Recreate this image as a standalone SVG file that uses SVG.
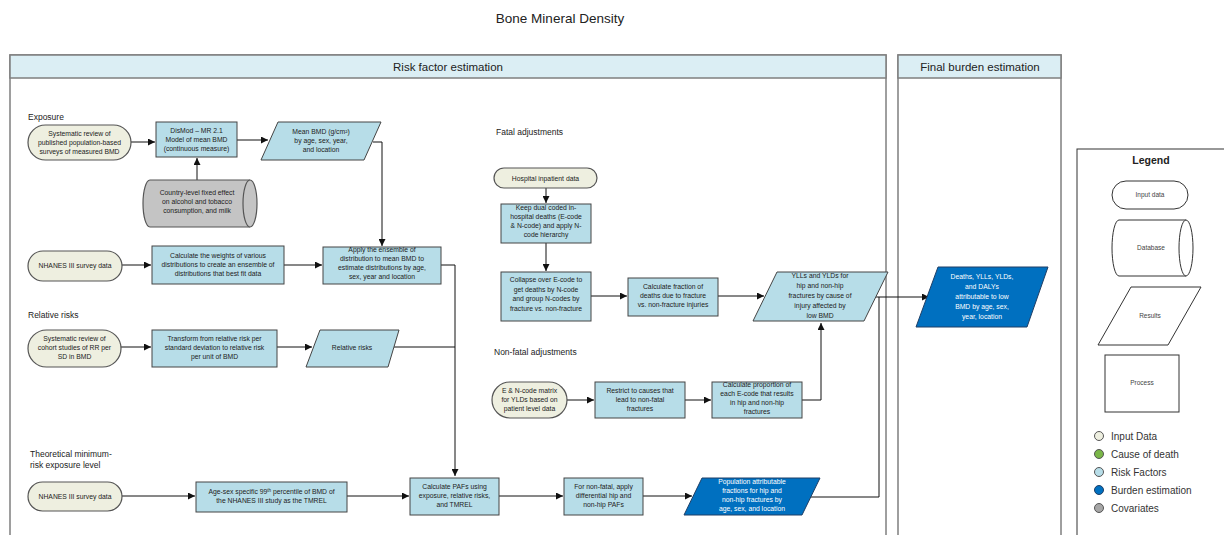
<svg xmlns="http://www.w3.org/2000/svg" width="1224" height="535" viewBox="0 0 1224 535">
  <defs>
    <marker id="arrow" viewBox="0 0 8 8" refX="8" refY="4" markerWidth="7" markerHeight="7" markerUnits="userSpaceOnUse" orient="auto">
      <path d="M0,0 L8,4 L0,8 Z" fill="#111"/>
    </marker>
    <style>
      text { font-family: "Liberation Sans", Arial, sans-serif; fill: #222; }
      .title { font-size: 13.5px; text-anchor: middle; }
      .hdr { font-size: 11.5px; text-anchor: middle; }
      .sec { font-size: 8.5px; }
      .t { font-size: 6.8px; text-anchor: middle; }
      .tw { font-size: 6.8px; text-anchor: middle; fill: #fff; }
      .panel { fill: #fff; stroke: #7f7f7f; stroke-width: 1.5; }
      .band { fill: #dbeef4; stroke: #7f7f7f; stroke-width: 1.5; }
      .input { fill: #eeefe0; stroke: #555; stroke-width: 1.2; }
      .proc { fill: #b7dde8; stroke: #444; stroke-width: 1; }
      .burden { fill: #0070c0; stroke: #1f3f66; stroke-width: 1; }
      .cov { fill: #c4c4c4; stroke: #555; stroke-width: 1.2; }
      .leg { fill: #fff; stroke: #333; stroke-width: 1; }
      .lt { font-size: 6.5px; text-anchor: middle; fill: #444; }
      .li { font-size: 10px; fill: #333; }
      .conn path { fill: none; stroke: #111; stroke-width: 1; }
    </style>
  </defs>

  <rect x="0" y="0" width="1224" height="535" fill="#fff"/>

  <text class="title" x="560" y="23">Bone Mineral Density</text>

  <!-- Swimlane panels -->
  <g id="panel-risk">
    <rect class="panel" x="10" y="55" width="876" height="500"/>
    <rect class="band" x="10" y="55" width="876" height="23"/>
    <text class="hdr" x="448" y="71">Risk factor estimation</text>
  </g>
  <g id="panel-final">
    <rect class="panel" x="898" y="55" width="163" height="500"/>
    <rect class="band" x="898" y="55" width="163" height="23"/>
    <text class="hdr" x="980" y="71">Final burden estimation</text>
  </g>

  <!-- Section labels -->
  <text class="sec" x="28" y="120">Exposure</text>
  <text class="sec" x="28" y="318">Relative risks</text>
  <text class="sec" x="30" y="457">Theoretical minimum-</text>
  <text class="sec" x="30" y="468">risk exposure level</text>
  <text class="sec" x="496" y="135">Fatal adjustments</text>
  <text class="sec" x="494" y="355">Non-fatal adjustments</text>

  <!-- Connectors -->
  <g class="conn" id="connectors">
    <path d="M131,142 H155" marker-end="url(#arrow)"/>
    <path d="M237,140 H268" marker-end="url(#arrow)"/>
    <path d="M197,180 V158" marker-end="url(#arrow)"/>
    <path d="M373,142 H382 V246" marker-end="url(#arrow)"/>
    <path d="M122,265 H151" marker-end="url(#arrow)"/>
    <path d="M284,265 H322" marker-end="url(#arrow)"/>
    <path d="M441,265 H455 V476" marker-end="url(#arrow)"/>
    <path d="M121,347 H151" marker-end="url(#arrow)"/>
    <path d="M277,347 H312" marker-end="url(#arrow)"/>
    <path d="M394,347 H455"/>
    <path d="M122,496 H195" marker-end="url(#arrow)"/>
    <path d="M347,496 H409" marker-end="url(#arrow)"/>
    <path d="M499,496 H563" marker-end="url(#arrow)"/>
    <path d="M643,496 H692" marker-end="url(#arrow)"/>
    <path d="M810,497 H879 V297"/>
    <path d="M546,188 V203" marker-end="url(#arrow)"/>
    <path d="M546,243 V271" marker-end="url(#arrow)"/>
    <path d="M591,296 H627" marker-end="url(#arrow)"/>
    <path d="M718,296 H764" marker-end="url(#arrow)"/>
    <path d="M567,400 H594" marker-end="url(#arrow)"/>
    <path d="M685,400 H711" marker-end="url(#arrow)"/>
    <path d="M802,400 H821 V323" marker-end="url(#arrow)"/>
    <path d="M874,297 H929" marker-end="url(#arrow)"/>
  </g>

  <!-- Exposure -->
  <g id="sr-surveys">
    <rect class="input" x="28" y="125" width="103" height="35" rx="17.5"/>
    <text class="t" x="79.5" y="136"><tspan x="79.5">Systematic review of</tspan><tspan x="79.5" dy="9">published population-based</tspan><tspan x="79.5" dy="9">surveys of measured BMD</tspan></text>
  </g>
  <g id="dismod">
    <rect class="proc" x="156" y="122" width="81" height="35"/>
    <text class="t" x="196.5" y="133"><tspan x="196.5">DisMod – MR 2.1</tspan><tspan x="196.5" dy="9">Model of mean BMD</tspan><tspan x="196.5" dy="9">(continuous measure)</tspan></text>
  </g>
  <g id="mean-bmd">
    <polygon class="proc" points="278,122 381,122 364,160 261,160"/>
    <text class="t" x="321" y="134"><tspan x="321">Mean BMD (g/cm²)</tspan><tspan x="321" dy="9">by age, sex, year,</tspan><tspan x="321" dy="9">and location</tspan></text>
  </g>
  <g id="covariates">
    <path class="cov" d="M150,180 H250 A7,23.5 0 0 1 250,227 H150 A7,23.5 0 0 1 150,180 Z"/>
    <path class="cov" d="M250,180 A7,23.5 0 0 0 250,227" fill="none"/>
    <text class="t" x="197" y="195"><tspan x="197">Country-level fixed effect</tspan><tspan x="197" dy="9">on alcohol and tobacco</tspan><tspan x="197" dy="9">consumption, and milk</tspan></text>
  </g>
  <g id="nhanes-1">
    <rect class="input" x="28" y="251" width="94" height="30" rx="15"/>
    <text class="t" x="75" y="268">NHANES III survey data</text>
  </g>
  <g id="weights">
    <rect class="proc" x="152" y="246" width="132" height="38"/>
    <text class="t" x="218" y="258"><tspan x="218">Calculate the weights of various</tspan><tspan x="218" dy="9">distributions to create an ensemble of</tspan><tspan x="218" dy="9">distributions that best fit data</tspan></text>
  </g>
  <g id="apply-ensemble">
    <rect class="proc" x="323" y="247" width="118" height="37"/>
    <text class="t" x="382" y="252"><tspan x="382">Apply the ensemble of</tspan><tspan x="382" dy="9">distribution to mean BMD to</tspan><tspan x="382" dy="9">estimate distributions by age,</tspan><tspan x="382" dy="9">sex, year and location</tspan></text>
  </g>

  <!-- Relative risks -->
  <g id="sr-cohort">
    <rect class="input" x="28" y="330" width="93" height="37" rx="18.5"/>
    <text class="t" x="74.5" y="341"><tspan x="74.5">Systematic review of</tspan><tspan x="74.5" dy="9">cohort studies of RR per</tspan><tspan x="74.5" dy="9">SD in BMD</tspan></text>
  </g>
  <g id="transform">
    <rect class="proc" x="152" y="330" width="125" height="37"/>
    <text class="t" x="214.5" y="341"><tspan x="214.5">Transform from relative risk per</tspan><tspan x="214.5" dy="9">standard deviation to relative risk</tspan><tspan x="214.5" dy="9">per unit of BMD</tspan></text>
  </g>
  <g id="relative-risks">
    <polygon class="proc" points="320,330 399,330 388,367 306,367"/>
    <text class="t" x="352" y="350">Relative risks</text>
  </g>

  <!-- TMREL -->
  <g id="nhanes-2">
    <rect class="input" x="28" y="482" width="94" height="29" rx="14.5"/>
    <text class="t" x="75" y="499">NHANES III survey data</text>
  </g>
  <g id="tmrel">
    <rect class="proc" x="196" y="482" width="151" height="30"/>
    <text class="t" x="271.5" y="494"><tspan x="271.5">Age-sex specific 99<tspan dy="-2.5" font-size="4.5">th</tspan><tspan dy="2.5"> percentile of BMD of</tspan></tspan><tspan x="271.5" dy="9">the NHANES III study as the TMREL</tspan></text>
  </g>
  <g id="paf">
    <rect class="proc" x="410" y="478" width="89" height="37"/>
    <text class="t" x="454.5" y="489"><tspan x="454.5">Calculate PAFs using</tspan><tspan x="454.5" dy="9">exposure, relative risks,</tspan><tspan x="454.5" dy="9">and TMREL</tspan></text>
  </g>
  <g id="nonfatal-paf">
    <rect class="proc" x="564" y="478" width="79" height="37"/>
    <text class="t" x="603.5" y="489"><tspan x="603.5">For non-fatal, apply</tspan><tspan x="603.5" dy="9">differential hip and</tspan><tspan x="603.5" dy="9">non-hip PAFs</tspan></text>
  </g>
  <g id="paf-results">
    <polygon class="burden" points="702,478 820,478 802,515 684,515"/>
    <text class="tw" x="752" y="484"><tspan x="752">Population attributable</tspan><tspan x="752" dy="9">fractions for hip and</tspan><tspan x="752" dy="9">non-hip fractures by</tspan><tspan x="752" dy="9">age, sex, and location</tspan></text>
  </g>

  <!-- Fatal adjustments -->
  <g id="hospital">
    <rect class="input" x="494" y="168" width="103" height="20" rx="10"/>
    <text class="t" x="545.5" y="180.5">Hospital inpatient data</text>
  </g>
  <g id="dual-coded">
    <rect class="proc" x="501" y="204" width="90" height="39"/>
    <text class="t" x="546" y="210"><tspan x="546">Keep dual coded in-</tspan><tspan x="546" dy="9">hospital deaths (E-code</tspan><tspan x="546" dy="9">&amp; N-code) and apply N-</tspan><tspan x="546" dy="9">code hierarchy</tspan></text>
  </g>
  <g id="collapse">
    <rect class="proc" x="501" y="272" width="90" height="49"/>
    <text class="t" x="546" y="282"><tspan x="546">Collapse over E-code to</tspan><tspan x="546" dy="9.5">get deaths by N-code</tspan><tspan x="546" dy="9.5">and group N-codes by</tspan><tspan x="546" dy="9.5">fracture vs. non-fracture</tspan></text>
  </g>
  <g id="fraction">
    <rect class="proc" x="628" y="278" width="90" height="38"/>
    <text class="t" x="673" y="289"><tspan x="673">Calculate fraction of</tspan><tspan x="673" dy="9">deaths due to fracture</tspan><tspan x="673" dy="9">vs. non-fracture injuries</tspan></text>
  </g>
  <g id="yll-yld">
    <polygon class="proc" points="777,272 888,272 864,321 753,321"/>
    <text class="t" x="820" y="278"><tspan x="820">YLLs and YLDs for</tspan><tspan x="820" dy="10">hip and non-hip</tspan><tspan x="820" dy="10">fractures by cause of</tspan><tspan x="820" dy="10">injury affected by</tspan><tspan x="820" dy="10">low BMD</tspan></text>
  </g>

  <!-- Non-fatal adjustments -->
  <g id="en-matrix">
    <rect class="input" x="492" y="382" width="75" height="36" rx="18"/>
    <text class="t" x="529.5" y="393"><tspan x="529.5">E &amp; N-code matrix</tspan><tspan x="529.5" dy="9">for YLDs based on</tspan><tspan x="529.5" dy="9">patient level data</tspan></text>
  </g>
  <g id="restrict">
    <rect class="proc" x="595" y="382" width="90" height="36"/>
    <text class="t" x="640" y="393"><tspan x="640">Restrict to causes that</tspan><tspan x="640" dy="9">lead to non-fatal</tspan><tspan x="640" dy="9">fractures</tspan></text>
  </g>
  <g id="proportion">
    <rect class="proc" x="712" y="382" width="90" height="36"/>
    <text class="t" x="757" y="387"><tspan x="757">Calculate proportion of</tspan><tspan x="757" dy="9">each E-code that results</tspan><tspan x="757" dy="9">in hip and non-hip</tspan><tspan x="757" dy="9">fractures</tspan></text>
  </g>

  <!-- Final burden -->
  <g id="final-burden">
    <polygon class="burden" points="938,267 1048,267 1027,327 916,327"/>
    <text class="tw" x="982" y="279"><tspan x="982">Deaths, YLLs, YLDs,</tspan><tspan x="982" dy="10">and DALYs</tspan><tspan x="982" dy="10">attributable to low</tspan><tspan x="982" dy="10">BMD by age, sex,</tspan><tspan x="982" dy="10">year, location</tspan></text>
  </g>

  <!-- Legend -->
  <g id="legend">
    <rect class="leg" x="1077" y="149" width="160" height="400" stroke="#555"/>
    <text x="1151" y="164" font-size="10.5" font-weight="bold" text-anchor="middle">Legend</text>
    <rect class="leg" x="1112" y="181" width="76" height="28" rx="14"/>
    <text class="lt" x="1150" y="197">Input data</text>
    <path class="leg" d="M1119,220 H1186 A7,28 0 0 1 1186,276 H1119 A7,28 0 0 1 1119,220 Z"/>
    <path class="leg" d="M1186,220 A7,28 0 0 0 1186,276" fill="none"/>
    <text class="lt" x="1151" y="250">Database</text>
    <polygon class="leg" points="1131,287 1201,287 1168,345 1098,345"/>
    <text class="lt" x="1150" y="318">Results</text>
    <rect class="leg" x="1105" y="355" width="74" height="57"/>
    <text class="lt" x="1142" y="385">Process</text>
    <circle cx="1099" cy="436" r="4.5" fill="#eeefe0" stroke="#555"/>
    <text class="li" x="1111" y="439.5">Input Data</text>
    <circle cx="1099" cy="454" r="4.5" fill="#7ab648" stroke="#555"/>
    <text class="li" x="1111" y="457.5">Cause of death</text>
    <circle cx="1099" cy="472" r="4.5" fill="#b7dde8" stroke="#555"/>
    <text class="li" x="1111" y="475.5">Risk Factors</text>
    <circle cx="1099" cy="490" r="4.5" fill="#0070c0" stroke="#1f3f66"/>
    <text class="li" x="1111" y="493.5">Burden estimation</text>
    <circle cx="1099" cy="508" r="4.5" fill="#a6a6a6" stroke="#555"/>
    <text class="li" x="1111" y="511.5">Covariates</text>
  </g>
</svg>
